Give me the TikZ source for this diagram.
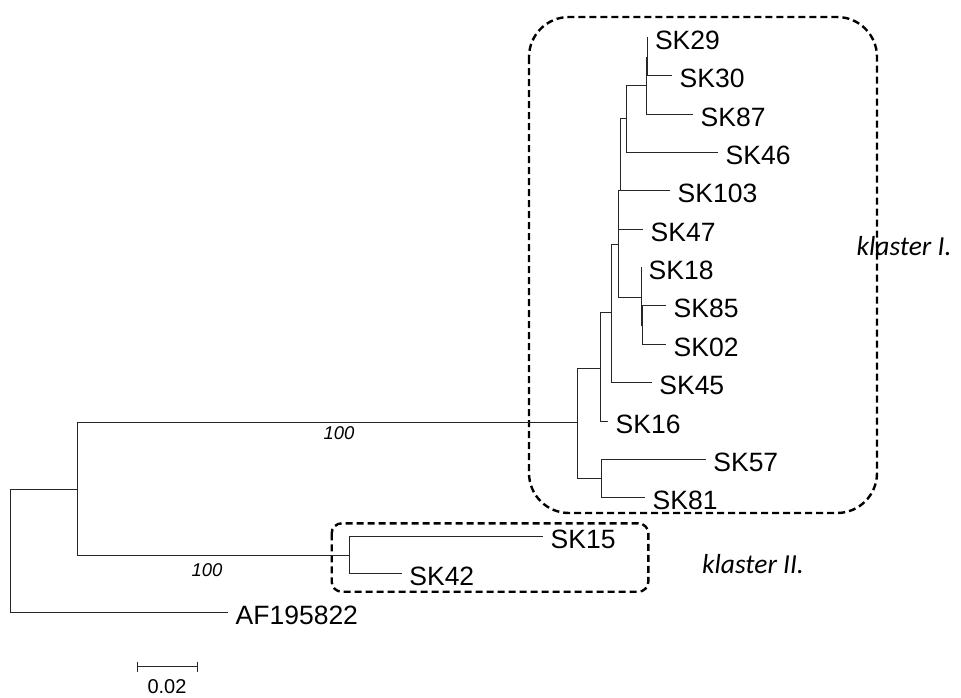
\documentclass[tikz,border=0pt]{standalone}
\usepackage{fontspec}
\setmainfont{Liberation Sans}
\newfontfamily\calfont{Carlito}
\begin{document}
\begin{tikzpicture}[x=1pt,y=-1pt,
  branch/.style={draw=black!85, line width=0.9pt},
  leaflabel/.style={anchor=west, inner sep=0pt, xshift=7.5pt, yshift=-3pt, font=\fontsize{26.5}{31}\selectfont},
  bootlabel/.style={inner sep=0pt, font=\fontsize{18.5}{22}\selectfont\itshape},
  clusterbox/.style={draw=black, line width=2.4pt, dash pattern=on 7pt off 4pt},
  clusterlabel/.style={inner sep=0pt, anchor=base, font=\fontsize{27.5}{32}\selectfont\calfont\itshape}]
\useasboundingbox (0,0) rectangle (961,697);

% cluster boxes
\draw[clusterbox, rounded corners=40pt] (529,17) rectangle (877,513);
\draw[clusterbox, rounded corners=10pt] (331.7,523.3) rectangle (648.3,591.7);

% internal nodes
\coordinate (root) at (10,550.5);
\coordinate (n1) at (77,489);
\coordinate (c1) at (577,422);
\coordinate (c2) at (349,555);
\coordinate (nA) at (600,368);
\coordinate (nB) at (601.7,478);
\coordinate (nC) at (611.7,312);
\coordinate (nD) at (618,244);
\coordinate (nG) at (620,190);
\coordinate (nH) at (626.7,118);
\coordinate (nI) at (646,85);
\coordinate (nJ) at (647.3,57);
\coordinate (nE) at (641,297);
\coordinate (nF) at (642,325);

% leaf tips
\coordinate (tAF) at (228,612);
\coordinate (t15) at (543,536);
\coordinate (t42) at (401.7,573);
\coordinate (t57) at (705.7,459);
\coordinate (t81) at (645,497);
\coordinate (t16) at (608,421);
\coordinate (t45) at (651.7,382);
\coordinate (t47) at (643,229);
\coordinate (t103) at (670,190);
\coordinate (t46) at (718,152);
\coordinate (t87) at (693,114);
\coordinate (t30) at (672,75);
\coordinate (t29) at (647.3,37);
\coordinate (t18) at (641,267);
\coordinate (t85) at (666,305.7);
\coordinate (t02) at (666,344);

% branches
\draw[branch] (root) |- (n1);
\draw[branch] (root) |- (tAF);
\draw[branch] (n1) |- (c1);
\draw[branch] (n1) |- (c2);
\draw[branch] (c2) |- (t15);
\draw[branch] (c2) |- (t42);
\draw[branch] (c1) |- (nA);
\draw[branch] (c1) |- (nB);
\draw[branch] (nB) |- (t57);
\draw[branch] (nB) |- (t81);
\draw[branch] (nA) |- (nC);
\draw[branch] (nA) |- (t16);
\draw[branch] (nC) |- (nD);
\draw[branch] (nC) |- (t45);
\draw[branch] (nD) |- (nG);
\draw[branch] (nD) |- (t47);
\draw[branch] (nD) |- (nE);
\draw[branch] (nG) |- (nH);
\draw[branch] (nG) |- (t103);
\draw[branch] (nH) |- (nI);
\draw[branch] (nH) |- (t46);
\draw[branch] (nI) |- (nJ);
\draw[branch] (nI) |- (t87);
\draw[branch] (nJ) |- (t29);
\draw[branch] (nJ) |- (t30);
\draw[branch] (nE) |- (t18);
\draw[branch] (nE) |- (nF);
\draw[branch] (nF) |- (t85);
\draw[branch] (nF) |- (t02);

% leaf labels
\node[leaflabel] (lAF) at (tAF) {AF195822};
\node[leaflabel] (l15) at (t15) {SK15};
\node[leaflabel] (l42) at (t42) {SK42};
\node[leaflabel] (l57) at (t57) {SK57};
\node[leaflabel] (l81) at (t81) {SK81};
\node[leaflabel] (l16) at (t16) {SK16};
\node[leaflabel] (l45) at (t45) {SK45};
\node[leaflabel] (l47) at (t47) {SK47};
\node[leaflabel] (l103) at (t103) {SK103};
\node[leaflabel] (l46) at (t46) {SK46};
\node[leaflabel] (l87) at (t87) {SK87};
\node[leaflabel] (l30) at (t30) {SK30};
\node[leaflabel] (l29) at (t29) {SK29};
\node[leaflabel] (l18) at (t18) {SK18};
\node[leaflabel] (l85) at (t85) {SK85};
\node[leaflabel] (l02) at (t02) {SK02};

% bootstrap values
\node[bootlabel] (b1) at (339,433) {100};
\node[bootlabel] (b2) at (207,570) {100};

% cluster labels
\node[clusterlabel] (k1) at (904,255) {klaster I.};
\node[clusterlabel] (k2) at (753,573) {klaster II.};

% scale bar
\coordinate (sL) at (137,666.7);
\coordinate (sR) at (197,666.7);
\draw[branch] (sL) -- (sR);
\draw[branch] ([yshift=5pt]sL) -- ([yshift=-5pt]sL);
\draw[branch] ([yshift=5pt]sR) -- ([yshift=-5pt]sR);
\node[inner sep=0pt, font=\fontsize{20}{24}\selectfont] (sc) at (167,687) {0.02};
\end{tikzpicture}
\end{document}
